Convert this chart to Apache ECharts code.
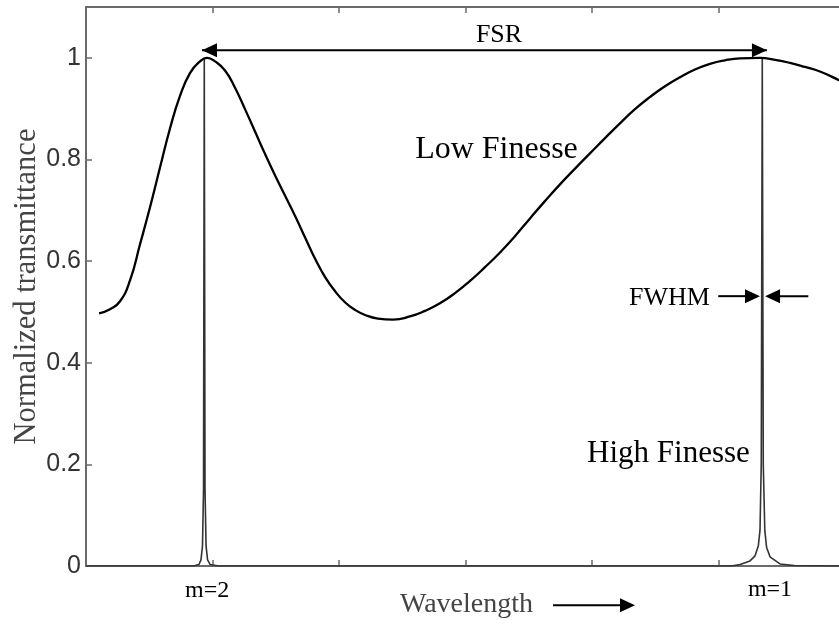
<!DOCTYPE html>
<html>
<head>
<meta charset="utf-8">
<script src="https://cdn.jsdelivr.net/npm/echarts@6/dist/echarts.min.js"></script>
<style>
html,body{margin:0;padding:0;background:#fff;}
#chart{width:839px;height:624px;}
</style>
</head>
<body>
<div id="chart"></div>
<script>
// ---- data ----
const lowFinesseX = [0.103,0.190,0.269,0.348,0.427,0.506,0.585,0.664,0.743,0.822,0.901,0.957,1.020,1.099,1.178,1.257,1.336,1.415,1.494,1.573,1.652,1.731,1.810,1.889,1.968,2.047,2.126,2.206,2.308,2.427,2.561,2.680,2.798,2.917,3.036,3.154,3.273,3.391,3.510,3.628,3.747,3.866,3.984,4.103,4.225,4.340,4.459,4.577,4.696,4.814,4.933,5.051,5.170,5.328,5.447,5.565,5.684,5.802,5.953,6.000];
const lowFinesseY = [0.497,0.505,0.521,0.562,0.633,0.706,0.784,0.861,0.925,0.970,0.993,1.000,0.993,0.975,0.941,0.899,0.855,0.811,0.769,0.729,0.689,0.647,0.605,0.569,0.541,0.519,0.504,0.494,0.487,0.485,0.491,0.502,0.517,0.537,0.561,0.588,0.617,0.649,0.684,0.718,0.751,0.782,0.812,0.842,0.872,0.899,0.923,0.944,0.962,0.977,0.988,0.995,0.999,1.000,0.996,0.990,0.982,0.973,0.956,0.950];

const highFinesseX = [0,0.850,0.893,0.909,0.921,0.929,0.935,0.941,0.949,0.961,0.981,1.050,5.100,5.170,5.249,5.289,5.315,5.328,5.338,5.346,5.354,5.366,5.380,5.407,5.486,5.600,6.000];
const highFinesseY = [0,0,0.003,0.012,0.040,0.150,1.000,0.150,0.040,0.012,0.003,0,0,0.003,0.010,0.020,0.040,0.070,0.200,1.000,0.200,0.070,0.037,0.018,0.004,0.001,0];

const yTickValues = [0,0.2,0.4,0.6,0.8,1];
const yTickLabels = ['0','0.2','0.4','0.6','0.8','1'];

// annotation anchors (data coordinates)
const fsrArrow = {x1:0.917, x2:5.383, y:1.015};
const fwhmArrowY = 0.531;
const fwhmLeft = {from:4.998, to:5.328};
const fwhmRight = {from:5.710, to:5.368};
const waveArrow = {x1:3.692, x2:4.340, y:-0.0774};
const texts = [
  {t:'FSR', x:3.265, y:1.044, size:26, color:'#000'},
  {t:'Low Finesse', x:3.245, y:0.820, size:32, color:'#000'},
  {t:'High Finesse', x:4.604, y:0.221, size:31, color:'#000'},
  {t:'FWHM', x:4.613, y:0.528, size:26, color:'#000'},
  {t:'m=2', x:0.957, y:-0.0488, size:24, color:'#000'},
  {t:'m=1', x:5.407, y:-0.046, size:24, color:'#000'},
  {t:'Wavelength', x:3.008, y:-0.0754, size:28, color:'#444'}
];

const lowData = lowFinesseX.map((x,i)=>[x, lowFinesseY[i]]);
const highData = highFinesseX.map((x,i)=>[x, highFinesseY[i]]);

const chart = echarts.init(document.getElementById('chart'), null, {renderer:'canvas'});
const frameColor = '#6a6a6a';
const xAxisBase = {
  type:'value', min:0, max:6, interval:1,
  axisLine:{show:true, onZero:false, lineStyle:{color:frameColor, width:2}},
  axisTick:{show:true, inside:true, length:6, lineStyle:{color:frameColor, width:1.5}},
  axisLabel:{show:false}, splitLine:{show:false}
};
const yAxisBase = {
  type:'value', min:0, max:1.1, interval:0.2,
  axisLine:{show:true, onZero:false, lineStyle:{color:frameColor, width:2}},
  axisTick:{show:true, inside:true, length:6, customValues:yTickValues, lineStyle:{color:frameColor, width:1.5}},
  splitLine:{show:false}
};
chart.setOption({
  animation:false,
  backgroundColor:'#fff',
  grid:{left:86, top:7, width:759, height:559, containLabel:false, outerBoundsMode:'none'},
  xAxis:[
    Object.assign({}, xAxisBase, {position:'bottom'}),
    Object.assign({}, xAxisBase, {position:'top'})
  ],
  yAxis:[
    Object.assign({}, yAxisBase, {
      position:'left',
      axisLabel:{show:true, customValues:yTickValues, margin:5,
        formatter:(v)=>{const i=yTickValues.findIndex(t=>Math.abs(t-v)<1e-6); return i>=0?yTickLabels[i]:'';},
        fontFamily:'Liberation Sans', fontSize:25, color:'#333'},
      name:'Normalized transmittance', nameLocation:'middle', nameGap:44, nameMoveOverlap:false,
      nameTextStyle:{fontFamily:'Liberation Serif', fontSize:30.5, color:'#444'}
    }),
    Object.assign({}, yAxisBase, {position:'right', axisLabel:{show:false}})
  ],
  series:[
    {type:'line', name:'High Finesse', data:highData, xAxisIndex:0, yAxisIndex:0, showSymbol:false, symbol:'none',
     lineStyle:{color:'#333', width:1.6}, z:3, clip:true},
    {type:'line', name:'Low Finesse', data:lowData, xAxisIndex:0, yAxisIndex:0, showSymbol:false, symbol:'none',
     smooth:0.5, lineStyle:{color:'#000', width:2.3}, z:4, clip:true}
  ]
});

function px(x,y){ return chart.convertToPixel({seriesIndex:0}, [x,y]); }
function arrowHead(tip, dir){ // dir: +1 points right, -1 points left
  const L=15, H=7;
  return {type:'polygon', shape:{points:[[tip[0],tip[1]],[tip[0]-dir*L,tip[1]-H],[tip[0]-dir*L,tip[1]+H]]},
          style:{fill:'#000'}, z:100};
}
function line(a,b,w){ return {type:'line', shape:{x1:a[0],y1:a[1],x2:b[0],y2:b[1]}, style:{stroke:'#000', lineWidth:w||2}, z:100}; }

const g = [];
// FSR double arrow
const fa = px(fsrArrow.x1, fsrArrow.y), fb = px(fsrArrow.x2, fsrArrow.y);
g.push(line(fa, fb, 2));
g.push(arrowHead(fa, -1));
g.push(arrowHead(fb, 1));
// FWHM arrows
const l1 = px(fwhmLeft.from, fwhmArrowY), l2 = px(fwhmLeft.to, fwhmArrowY);
g.push(line(l1, [l2[0]-10, l2[1]], 2)); g.push(arrowHead(l2, 1));
const r1 = px(fwhmRight.from, fwhmArrowY), r2 = px(fwhmRight.to, fwhmArrowY);
g.push(line(r1, [r2[0]+10, r2[1]], 2)); g.push(arrowHead(r2, -1));
// Wavelength arrow
const w1 = px(waveArrow.x1, waveArrow.y), w2 = px(waveArrow.x2, waveArrow.y);
g.push(line(w1, [w2[0]-10, w2[1]], 2)); g.push(arrowHead(w2, 1));
// texts
texts.forEach(o=>{
  const p = px(o.x, o.y);
  g.push({type:'text', x:p[0], y:p[1], z:101,
    style:{text:o.t, fontFamily:'Liberation Serif', fontSize:o.size, fill:o.color, align:'center', verticalAlign:'middle'}});
});
chart.setOption({graphic:{elements:g}});
</script>
</body>
</html>
